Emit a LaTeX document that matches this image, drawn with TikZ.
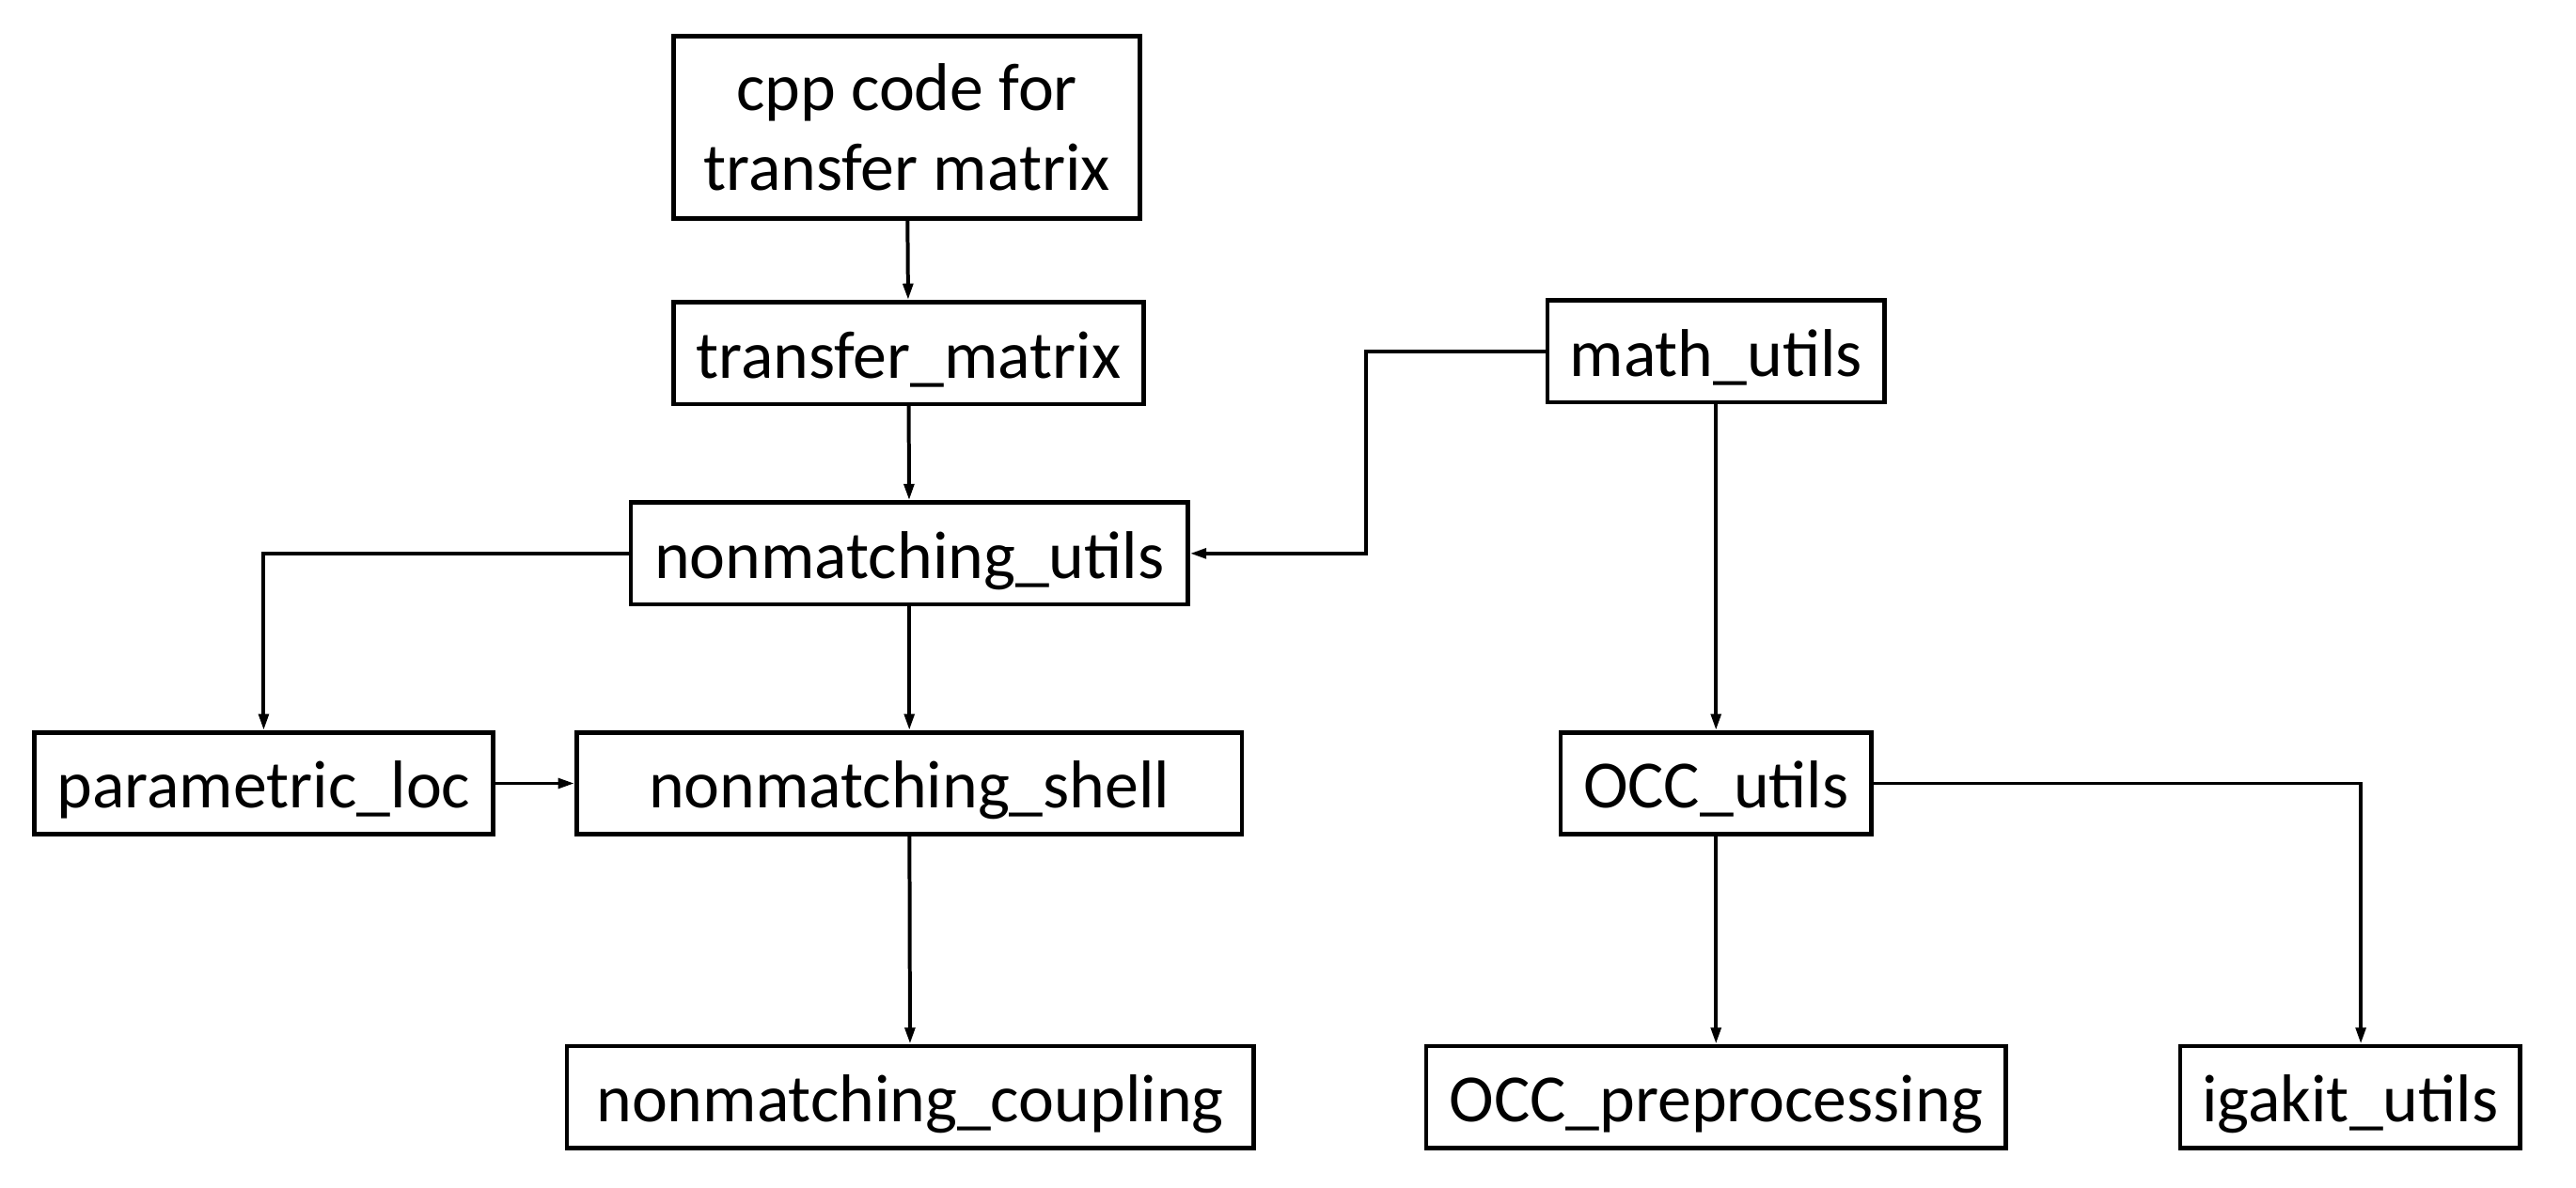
\documentclass[tikz,border=0pt]{standalone}
\usepackage{fontspec}
\setmainfont{Carlito}
\usepackage{tikz}
\usetikzlibrary{arrows.meta,positioning}

\begin{document}
\begin{tikzpicture}[
  font=\fontsize{11.7}{13.8}\selectfont,
  m/.style={draw,line width=0.75pt,minimum height=6.2mm,inner sep=0pt,align=center,text height=9.6pt,text depth=1pt},
  a/.style={-{Triangle[length=1mm,width=0.6mm]},line width=0.65pt}
]
\useasboundingbox (0,0) rectangle (15.68,7.23);

% transfer matrix chain
\node[m,minimum width=28.4mm,minimum height=11.1mm,text height=,text depth=] (cpp) at (5.52,6.455) {cpp code for\\transfer matrix};
\node[m,minimum width=28.6mm] (tm)  at (5.53,5.08) {transfer\_matrix};
\node[m,minimum width=33.9mm] (nmu) at (5.535,3.86) {nonmatching\_utils};

% shell
\node[m,minimum width=27.9mm] (ploc) at (1.605,2.46) {parametric\_loc};
\node[m,minimum width=40.5mm] (nms)  at (5.535,2.46) {nonmatching\_shell};
\node[m,minimum width=41.8mm] (nmc)  at (5.54,0.55) {nonmatching\_coupling};

% geometry
\node[m,minimum width=20.5mm] (math) at (10.445,5.09) {math\_utils};
\node[m,minimum width=18.9mm] (occ)  at (10.445,2.46) {OCC\_utils};
\node[m,minimum width=35.3mm] (occp) at (10.445,0.55) {OCC\_preprocessing};
\node[m,minimum width=20.7mm] (iga)  at (14.305,0.55) {igakit\_utils};

\draw[a] (cpp) -- (tm);
\draw[a] (tm) -- (nmu);
\draw[a] (nmu.west) -| (ploc.north);
\draw[a] (nmu) -- (nms);
\draw[a] (ploc) -- (nms);
\draw[a] (nms) -- (nmc);

\draw[a] (math.west) -- ++(-1.09,0) |- (nmu.east);
\draw[a] (math) -- (occ);
\draw[a] (occ) -- (occp);
\draw[a] (occ.east) -| ([xshift=0.65mm]iga.north);
\end{tikzpicture}
\end{document}
